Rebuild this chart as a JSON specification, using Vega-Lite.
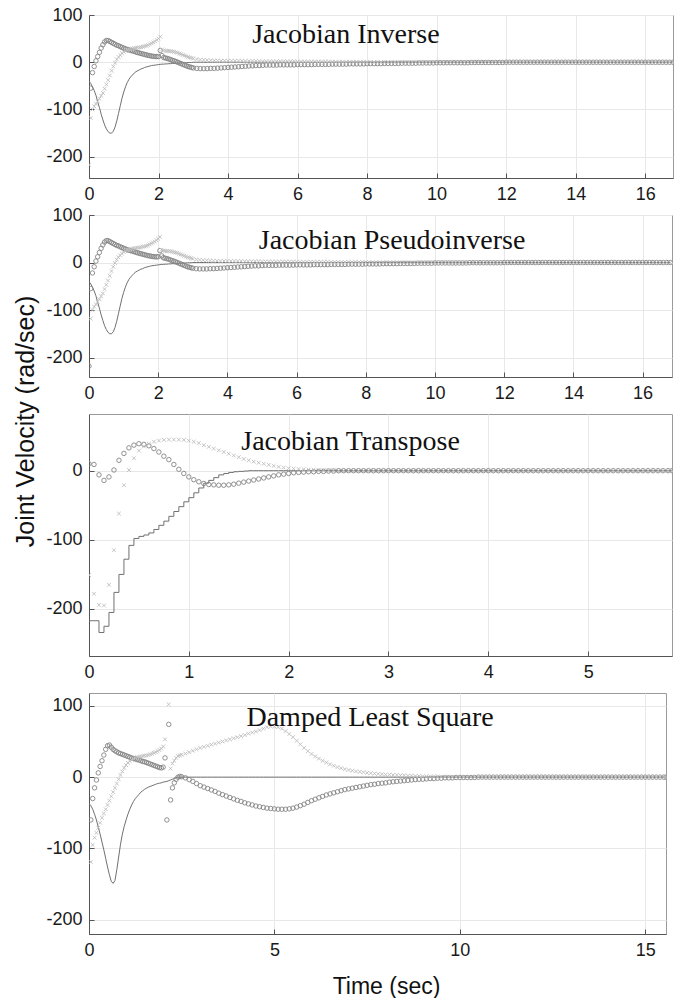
{
"$schema": "https://vega.github.io/schema/vega-lite/v6.json",
"background": "white",
"padding": {"left": 12, "top": 5, "right": 5, "bottom": 3},
"spacing": 37,
"bounds": "flush",
"config": {
  "view": {"stroke": "#9a9a9a", "strokeWidth": 1},
  "axis": {"labelFont": "Liberation Sans", "labelFontSize": 18, "labelColor": "#1a1a1a", "titleFont": "Liberation Sans", "titleFontWeight": "normal", "titleColor": "#111111", "gridColor": "#e8e8e8", "gridWidth": 1, "domainColor": "#555555", "tickColor": "#555555", "tickSize": -5, "labelPadding": 12, "labelFlush": false}
},
"datasets": {
"p12": [
{"t":0,"L":-40},
{"t":0.05,"L":-45,"O":-55,"X":-118},
{"t":0.1,"L":-52,"O":-22,"X":-100},
{"t":0.15,"L":-60,"O":-9,"X":-93},
{"t":0.2,"L":-70,"O":3,"X":-88},
{"t":0.25,"L":-84,"O":12,"X":-83},
{"t":0.3,"L":-96,"O":21,"X":-77},
{"t":0.35,"L":-110,"O":30,"X":-71},
{"t":0.4,"L":-122,"O":37,"X":-65},
{"t":0.45,"L":-133,"O":43,"X":-56},
{"t":0.5,"L":-141,"O":46,"X":-47},
{"t":0.55,"L":-147,"O":46,"X":-38},
{"t":0.6,"L":-150,"O":44,"X":-28},
{"t":0.65,"L":-150,"O":42,"X":-18},
{"t":0.7,"L":-146,"O":40,"X":-9},
{"t":0.75,"L":-137,"O":38,"X":-1},
{"t":0.8,"L":-124,"O":36,"X":6},
{"t":0.85,"L":-108,"O":35,"X":11},
{"t":0.9,"L":-92,"O":33,"X":15},
{"t":0.95,"L":-76,"O":31.5,"X":19},
{"t":1,"L":-63,"O":30,"X":22},
{"t":1.05,"L":-52,"O":28.5,"X":24},
{"t":1.1,"L":-43,"O":27,"X":26},
{"t":1.15,"L":-36,"O":26,"X":27},
{"t":1.2,"L":-31,"O":25,"X":28},
{"t":1.25,"L":-27,"O":24,"X":29},
{"t":1.3,"L":-23,"O":23,"X":30},
{"t":1.35,"L":-20,"O":21.5,"X":30},
{"t":1.4,"L":-18,"O":20.5,"X":31},
{"t":1.45,"L":-16,"O":19.5,"X":31.5},
{"t":1.5,"L":-14,"O":18.5,"X":32},
{"t":1.55,"L":-13,"O":17.5,"X":33},
{"t":1.6,"L":-11,"O":16.5,"X":34},
{"t":1.65,"L":-10,"O":15.5,"X":35},
{"t":1.7,"L":-9,"O":14.5,"X":36},
{"t":1.75,"L":-8,"O":14,"X":38},
{"t":1.8,"L":-7,"O":13,"X":40},
{"t":1.85,"L":-6.5,"O":12.5,"X":42},
{"t":1.9,"L":-6,"O":12,"X":44},
{"t":1.95,"L":-5.5,"O":12,"X":47},
{"t":2,"L":-5,"O":12,"X":50},
{"t":2.05,"L":-4.5,"O":25,"X":54},
{"t":2.1,"L":-4,"O":14,"X":27},
{"t":2.15,"L":-4,"O":10,"X":25},
{"t":2.2,"L":-3.5,"O":9,"X":24},
{"t":2.25,"L":-3.5,"O":8,"X":24},
{"t":2.3,"L":-3,"O":7,"X":24},
{"t":2.35,"L":-3,"O":5.5,"X":23.5},
{"t":2.4,"L":-2.5,"O":4,"X":23},
{"t":2.45,"L":-2.5,"O":3,"X":22},
{"t":2.5,"L":-2,"O":1.5,"X":21},
{"t":2.55,"L":-2,"O":0,"X":20},
{"t":2.6,"L":-1.5,"O":-1.5,"X":18.5},
{"t":2.65,"L":-1.5,"O":-3,"X":17},
{"t":2.7,"L":-1,"O":-4.5,"X":15.5},
{"t":2.75,"L":-1,"O":-6,"X":14},
{"t":2.8,"L":-1,"O":-7.5,"X":12.5},
{"t":2.85,"L":-0.5,"O":-9,"X":11},
{"t":2.9,"L":-0.5,"O":-10,"X":10},
{"t":2.95,"L":-0.5,"O":-11,"X":9},
{"t":3,"L":0,"O":-12,"X":8},
{"t":3.1,"L":0,"O":-13,"X":6.5},
{"t":3.2,"L":0,"O":-13.5,"X":5.5},
{"t":3.3,"L":0,"O":-13.5,"X":5},
{"t":3.4,"L":0,"O":-13.5,"X":4.5},
{"t":3.5,"L":0,"O":-13,"X":4},
{"t":3.6,"L":0,"O":-13,"X":3.5},
{"t":3.7,"L":0,"O":-12.5,"X":3.5},
{"t":3.8,"L":0,"O":-12,"X":3},
{"t":3.9,"L":0,"O":-11.5,"X":3},
{"t":4,"L":0,"O":-11,"X":3},
{"t":4.1,"L":0,"O":-10.5,"X":3},
{"t":4.2,"L":0,"O":-10,"X":3},
{"t":4.3,"L":0,"O":-9.5,"X":3},
{"t":4.4,"L":0,"O":-9,"X":3},
{"t":4.5,"L":0,"O":-8.5,"X":2.5},
{"t":4.6,"L":0,"O":-8,"X":2.5},
{"t":4.7,"L":0,"O":-7.5,"X":2.5},
{"t":4.8,"L":0,"O":-7,"X":2.5},
{"t":4.9,"L":0,"O":-7,"X":2.5},
{"t":5,"L":0,"O":-6.5,"X":2},
{"t":5.1,"L":0,"O":-6,"X":2},
{"t":5.2,"L":0,"O":-6,"X":2},
{"t":5.3,"L":0,"O":-6,"X":2},
{"t":5.4,"L":0,"O":-6,"X":2},
{"t":5.5,"L":0,"O":-5.5,"X":2},
{"t":5.6,"L":0,"O":-5.5,"X":2},
{"t":5.7,"L":0,"O":-5.5,"X":2},
{"t":5.8,"L":0,"O":-5.5,"X":2},
{"t":5.9,"L":0,"O":-5.5,"X":2},
{"t":6,"L":0,"O":-5,"X":1.5},
{"t":6.1,"L":0,"O":-5,"X":1.5},
{"t":6.2,"L":0,"O":-5,"X":1.5},
{"t":6.3,"L":0,"O":-5,"X":1.5},
{"t":6.4,"L":0,"O":-5,"X":1.5},
{"t":6.5,"L":0,"O":-4.5,"X":1.5},
{"t":6.6,"L":0,"O":-4.5,"X":1.5},
{"t":6.7,"L":0,"O":-4.5,"X":1.5},
{"t":6.8,"L":0,"O":-4.5,"X":1.5},
{"t":6.9,"L":0,"O":-4.5,"X":1.5},
{"t":7,"L":0,"O":-4,"X":1},
{"t":7.1,"L":0,"O":-4,"X":1},
{"t":7.2,"L":0,"O":-4,"X":1},
{"t":7.3,"L":0,"O":-4,"X":1},
{"t":7.4,"L":0,"O":-4,"X":1},
{"t":7.5,"L":0,"O":-3.5,"X":1},
{"t":7.6,"L":0,"O":-3.5,"X":1},
{"t":7.7,"L":0,"O":-3.5,"X":1},
{"t":7.8,"L":0,"O":-3.5,"X":1},
{"t":7.9,"L":0,"O":-3.5,"X":1},
{"t":8,"L":0,"O":-3,"X":0.5},
{"t":8.1,"L":0,"O":-3,"X":0.5},
{"t":8.2,"L":0,"O":-3,"X":0.5},
{"t":8.3,"L":0,"O":-3,"X":0.5},
{"t":8.4,"L":0,"O":-3,"X":0.5},
{"t":8.5,"L":0,"O":-2.5,"X":0.5},
{"t":8.6,"L":0,"O":-2.5,"X":0.5},
{"t":8.7,"L":0,"O":-2.5,"X":0.5},
{"t":8.8,"L":0,"O":-2.5,"X":0.5},
{"t":8.9,"L":0,"O":-2.5,"X":0.5},
{"t":9,"L":0,"O":-2,"X":0},
{"t":9.1,"L":0,"O":-2,"X":0},
{"t":9.2,"L":0,"O":-2,"X":0},
{"t":9.3,"L":0,"O":-2,"X":0},
{"t":9.4,"L":0,"O":-2,"X":0},
{"t":9.5,"L":0,"O":-1.5,"X":0},
{"t":9.6,"L":0,"O":-1.5,"X":0},
{"t":9.7,"L":0,"O":-1.5,"X":0},
{"t":9.8,"L":0,"O":-1.5,"X":0},
{"t":9.9,"L":0,"O":-1.5,"X":0},
{"t":10,"L":0,"O":-1,"X":0},
{"t":10.1,"L":0,"O":-1,"X":0},
{"t":10.2,"L":0,"O":-1,"X":0},
{"t":10.3,"L":0,"O":-1,"X":0},
{"t":10.4,"L":0,"O":-1,"X":0},
{"t":10.5,"L":0,"O":-1,"X":0},
{"t":10.6,"L":0,"O":-1,"X":0},
{"t":10.7,"L":0,"O":-1,"X":0},
{"t":10.8,"L":0,"O":-1,"X":0},
{"t":10.9,"L":0,"O":-1,"X":0},
{"t":11,"L":0,"O":-0.5,"X":0},
{"t":11.1,"L":0,"O":-0.5,"X":0},
{"t":11.2,"L":0,"O":-0.5,"X":0},
{"t":11.3,"L":0,"O":-0.5,"X":0},
{"t":11.4,"L":0,"O":-0.5,"X":0},
{"t":11.5,"L":0,"O":-0.5,"X":0},
{"t":11.6,"L":0,"O":-0.5,"X":0},
{"t":11.7,"L":0,"O":-0.5,"X":0},
{"t":11.8,"L":0,"O":-0.5,"X":0},
{"t":11.9,"L":0,"O":-0.5,"X":0},
{"t":12,"L":0,"O":0,"X":0},
{"t":12.1,"L":0,"O":0,"X":0},
{"t":12.2,"L":0,"O":0,"X":0},
{"t":12.3,"L":0,"O":0,"X":0},
{"t":12.4,"L":0,"O":0,"X":0},
{"t":12.5,"L":0,"O":0,"X":0},
{"t":12.6,"L":0,"O":0,"X":0},
{"t":12.7,"L":0,"O":0,"X":0},
{"t":12.8,"L":0,"O":0,"X":0},
{"t":12.9,"L":0,"O":0,"X":0},
{"t":13,"L":0,"O":0,"X":0},
{"t":13.1,"L":0,"O":0,"X":0},
{"t":13.2,"L":0,"O":0,"X":0},
{"t":13.3,"L":0,"O":0,"X":0},
{"t":13.4,"L":0,"O":0,"X":0},
{"t":13.5,"L":0,"O":0,"X":0},
{"t":13.6,"L":0,"O":0,"X":0},
{"t":13.7,"L":0,"O":0,"X":0},
{"t":13.8,"L":0,"O":0,"X":0},
{"t":13.9,"L":0,"O":0,"X":0},
{"t":14,"L":0,"O":0,"X":0},
{"t":14.1,"L":0,"O":0,"X":0},
{"t":14.2,"L":0,"O":0,"X":0},
{"t":14.3,"L":0,"O":0,"X":0},
{"t":14.4,"L":0,"O":0,"X":0},
{"t":14.5,"L":0,"O":0,"X":0},
{"t":14.6,"L":0,"O":0,"X":0},
{"t":14.7,"L":0,"O":0,"X":0},
{"t":14.8,"L":0,"O":0,"X":0},
{"t":14.9,"L":0,"O":0,"X":0},
{"t":15,"L":0,"O":0,"X":0},
{"t":15.1,"L":0,"O":0,"X":0},
{"t":15.2,"L":0,"O":0,"X":0},
{"t":15.3,"L":0,"O":0,"X":0},
{"t":15.4,"L":0,"O":0,"X":0},
{"t":15.5,"L":0,"O":0,"X":0},
{"t":15.6,"L":0,"O":0,"X":0},
{"t":15.7,"L":0,"O":0,"X":0},
{"t":15.8,"L":0,"O":0,"X":0},
{"t":15.9,"L":0,"O":0,"X":0},
{"t":16,"L":0,"O":0,"X":0},
{"t":16.1,"L":0,"O":0,"X":0},
{"t":16.2,"L":0,"O":0,"X":0},
{"t":16.3,"L":0,"O":0,"X":0},
{"t":16.4,"L":0,"O":0,"X":0},
{"t":16.5,"L":0,"O":0,"X":0},
{"t":16.6,"L":0,"O":0,"X":0},
{"t":16.7,"L":0,"O":0,"X":0},
{"t":16.8,"L":0,"O":0,"X":0}
],
"p1x": [{"t":0,"X":-217}],
"p2o": [{"t":0,"O":-218}],
"p3": [
{"t":0,"L":-217,"O":10,"X":-151},
{"t":0.05,"L":-217,"O":9,"X":-178},
{"t":0.1,"L":-234,"O":-6,"X":-194},
{"t":0.15,"L":-225,"O":-14,"X":-195},
{"t":0.2,"L":-205,"O":-9,"X":-165},
{"t":0.25,"L":-176,"O":1,"X":-115},
{"t":0.3,"L":-150,"O":15,"X":-62},
{"t":0.35,"L":-128,"O":25,"X":-21},
{"t":0.4,"L":-108,"O":33,"X":1},
{"t":0.45,"L":-98,"O":37,"X":18},
{"t":0.5,"L":-95,"O":39,"X":29},
{"t":0.55,"L":-93,"O":38,"X":35},
{"t":0.6,"L":-90,"O":36,"X":39},
{"t":0.65,"L":-85,"O":32,"X":42},
{"t":0.7,"L":-79,"O":27,"X":43.5},
{"t":0.75,"L":-73,"O":21,"X":44.5},
{"t":0.8,"L":-66,"O":16,"X":45},
{"t":0.85,"L":-59,"O":9,"X":45},
{"t":0.9,"L":-52,"O":2,"X":45},
{"t":0.95,"L":-45,"O":-4,"X":44.5},
{"t":1,"L":-39,"O":-9,"X":43.5},
{"t":1.05,"L":-32,"O":-13,"X":42},
{"t":1.1,"L":-25,"O":-16,"X":40},
{"t":1.15,"L":-18,"O":-18.5,"X":37},
{"t":1.2,"L":-14,"O":-20,"X":34.5},
{"t":1.25,"L":-10,"O":-20.5,"X":32},
{"t":1.3,"L":-6,"O":-21,"X":29.5},
{"t":1.35,"L":-4,"O":-21,"X":27},
{"t":1.4,"L":-2.5,"O":-20.5,"X":24.5},
{"t":1.45,"L":-1.5,"O":-19.5,"X":22},
{"t":1.5,"L":-1,"O":-18,"X":19.5},
{"t":1.55,"L":-0.5,"O":-16.5,"X":17},
{"t":1.6,"L":0,"O":-15,"X":15},
{"t":1.65,"L":0,"O":-13.5,"X":13},
{"t":1.7,"L":0,"O":-12,"X":11.5},
{"t":1.75,"L":0,"O":-10.5,"X":10},
{"t":1.8,"L":0,"O":-9,"X":8.5},
{"t":1.85,"L":0,"O":-7.5,"X":7},
{"t":1.9,"L":0,"O":-6,"X":5.5},
{"t":1.95,"L":0,"O":-5,"X":4.5},
{"t":2,"L":0,"O":-4,"X":3.5},
{"t":2.05,"L":0,"O":-3,"X":3},
{"t":2.1,"L":0,"O":-2.5,"X":2.5},
{"t":2.15,"L":0,"O":-2,"X":2},
{"t":2.2,"L":0,"O":-1.5,"X":1.5},
{"t":2.25,"L":0,"O":-1.5,"X":1.5},
{"t":2.3,"L":0,"O":-1,"X":1},
{"t":2.35,"L":0,"O":-1,"X":1},
{"t":2.4,"L":0,"O":-0.5,"X":0.5},
{"t":2.45,"L":0,"O":-0.5,"X":0.5},
{"t":2.5,"L":0,"O":0,"X":0},
{"t":2.55,"L":0,"O":0,"X":0},
{"t":2.6,"L":0,"O":0,"X":0},
{"t":2.65,"L":0,"O":0,"X":0},
{"t":2.7,"L":0,"O":0,"X":0},
{"t":2.75,"L":0,"O":0,"X":0},
{"t":2.8,"L":0,"O":0,"X":0},
{"t":2.85,"L":0,"O":0,"X":0},
{"t":2.9,"L":0,"O":0,"X":0},
{"t":2.95,"L":0,"O":0,"X":0},
{"t":3,"L":0,"O":0,"X":0},
{"t":3.05,"L":0,"O":0,"X":0},
{"t":3.1,"L":0,"O":0,"X":0},
{"t":3.15,"L":0,"O":0,"X":0},
{"t":3.2,"L":0,"O":0,"X":0},
{"t":3.25,"L":0,"O":0,"X":0},
{"t":3.3,"L":0,"O":0,"X":0},
{"t":3.35,"L":0,"O":0,"X":0},
{"t":3.4,"L":0,"O":0,"X":0},
{"t":3.45,"L":0,"O":0,"X":0},
{"t":3.5,"L":0,"O":0,"X":0},
{"t":3.55,"L":0,"O":0,"X":0},
{"t":3.6,"L":0,"O":0,"X":0},
{"t":3.65,"L":0,"O":0,"X":0},
{"t":3.7,"L":0,"O":0,"X":0},
{"t":3.75,"L":0,"O":0,"X":0},
{"t":3.8,"L":0,"O":0,"X":0},
{"t":3.85,"L":0,"O":0,"X":0},
{"t":3.9,"L":0,"O":0,"X":0},
{"t":3.95,"L":0,"O":0,"X":0},
{"t":4,"L":0,"O":0,"X":0},
{"t":4.05,"L":0,"O":0,"X":0},
{"t":4.1,"L":0,"O":0,"X":0},
{"t":4.15,"L":0,"O":0,"X":0},
{"t":4.2,"L":0,"O":0,"X":0},
{"t":4.25,"L":0,"O":0,"X":0},
{"t":4.3,"L":0,"O":0,"X":0},
{"t":4.35,"L":0,"O":0,"X":0},
{"t":4.4,"L":0,"O":0,"X":0},
{"t":4.45,"L":0,"O":0,"X":0},
{"t":4.5,"L":0,"O":0,"X":0},
{"t":4.55,"L":0,"O":0,"X":0},
{"t":4.6,"L":0,"O":0,"X":0},
{"t":4.65,"L":0,"O":0,"X":0},
{"t":4.7,"L":0,"O":0,"X":0},
{"t":4.75,"L":0,"O":0,"X":0},
{"t":4.8,"L":0,"O":0,"X":0},
{"t":4.85,"L":0,"O":0,"X":0},
{"t":4.9,"L":0,"O":0,"X":0},
{"t":4.95,"L":0,"O":0,"X":0},
{"t":5,"L":0,"O":0,"X":0},
{"t":5.05,"L":0,"O":0,"X":0},
{"t":5.1,"L":0,"O":0,"X":0},
{"t":5.15,"L":0,"O":0,"X":0},
{"t":5.2,"L":0,"O":0,"X":0},
{"t":5.25,"L":0,"O":0,"X":0},
{"t":5.3,"L":0,"O":0,"X":0},
{"t":5.35,"L":0,"O":0,"X":0},
{"t":5.4,"L":0,"O":0,"X":0},
{"t":5.45,"L":0,"O":0,"X":0},
{"t":5.5,"L":0,"O":0,"X":0},
{"t":5.55,"L":0,"O":0,"X":0},
{"t":5.6,"L":0,"O":0,"X":0},
{"t":5.65,"L":0,"O":0,"X":0},
{"t":5.7,"L":0,"O":0,"X":0},
{"t":5.75,"L":0,"O":0,"X":0},
{"t":5.8,"L":0,"O":0,"X":0},
{"t":5.84,"L":0,"O":0,"X":0}
],
"p4": [
{"t":0,"L":-37},
{"t":0.05,"L":-40,"O":-60,"X":-119},
{"t":0.1,"L":-45,"O":-30,"X":-95},
{"t":0.15,"L":-52,"O":-15,"X":-85},
{"t":0.2,"L":-60,"O":-4,"X":-78},
{"t":0.25,"L":-70,"O":6,"X":-71},
{"t":0.3,"L":-80,"O":15,"X":-64},
{"t":0.35,"L":-91,"O":23,"X":-57},
{"t":0.4,"L":-102,"O":31,"X":-51},
{"t":0.45,"L":-114,"O":39,"X":-45},
{"t":0.5,"L":-126,"O":44,"X":-39},
{"t":0.55,"L":-137,"O":45,"X":-33},
{"t":0.6,"L":-146,"O":42,"X":-27},
{"t":0.65,"L":-149,"O":39,"X":-21},
{"t":0.7,"L":-145,"O":37,"X":-15},
{"t":0.75,"L":-130,"O":35.5,"X":-9},
{"t":0.8,"L":-112,"O":34,"X":-3},
{"t":0.85,"L":-94,"O":33,"X":3},
{"t":0.9,"L":-80,"O":32,"X":8},
{"t":0.95,"L":-69,"O":31,"X":13},
{"t":1,"L":-60,"O":30,"X":17},
{"t":1.05,"L":-52,"O":29,"X":20},
{"t":1.1,"L":-45,"O":28,"X":22.5},
{"t":1.15,"L":-39,"O":27,"X":24.5},
{"t":1.2,"L":-34,"O":26,"X":26},
{"t":1.25,"L":-30,"O":25.5,"X":27},
{"t":1.3,"L":-27,"O":24.5,"X":28},
{"t":1.35,"L":-24,"O":24,"X":28.5},
{"t":1.4,"L":-21,"O":23,"X":29},
{"t":1.45,"L":-19,"O":22,"X":29.5},
{"t":1.5,"L":-17,"O":21.5,"X":30},
{"t":1.55,"L":-15.5,"O":20.5,"X":30.5},
{"t":1.6,"L":-14,"O":19.5,"X":31},
{"t":1.65,"L":-13,"O":18.5,"X":32},
{"t":1.7,"L":-12,"O":17.5,"X":33},
{"t":1.75,"L":-11,"O":16.5,"X":34},
{"t":1.8,"L":-10,"O":15.5,"X":35},
{"t":1.85,"L":-9,"O":14.5,"X":36.5},
{"t":1.9,"L":-8.5,"O":13.5,"X":38},
{"t":1.95,"L":-8,"O":13,"X":40},
{"t":2,"L":-7,"O":14,"X":43},
{"t":2.05,"L":-6.5,"O":27,"X":53},
{"t":2.1,"L":-6,"O":-60},
{"t":2.15,"L":-5,"O":74,"X":102},
{"t":2.2,"L":-4,"O":-32,"X":12},
{"t":2.25,"L":-3,"O":-15,"X":19},
{"t":2.3,"L":-2,"O":-8,"X":23},
{"t":2.35,"L":-1,"O":-3,"X":27},
{"t":2.4,"L":0,"O":0,"X":29.5},
{"t":2.45,"L":0,"O":1,"X":30.5},
{"t":2.5,"L":0,"O":0.5,"X":31.5},
{"t":2.6,"L":0,"O":-1,"X":33},
{"t":2.7,"L":0,"O":-3.5,"X":35},
{"t":2.8,"L":0,"O":-6,"X":37},
{"t":2.9,"L":0,"O":-9,"X":39},
{"t":3,"L":0,"O":-12,"X":41},
{"t":3.1,"L":0,"O":-14,"X":42.5},
{"t":3.2,"L":0,"O":-16,"X":44},
{"t":3.3,"L":0,"O":-18,"X":45.5},
{"t":3.4,"L":0,"O":-20,"X":47},
{"t":3.5,"L":0,"O":-22.5,"X":48.5},
{"t":3.6,"L":0,"O":-24.5,"X":50},
{"t":3.7,"L":0,"O":-26.5,"X":51.5},
{"t":3.8,"L":0,"O":-28.5,"X":53},
{"t":3.9,"L":0,"O":-30.5,"X":54.5},
{"t":4,"L":0,"O":-32.5,"X":56},
{"t":4.1,"L":0,"O":-34,"X":57.5},
{"t":4.2,"L":0,"O":-36,"X":59},
{"t":4.3,"L":0,"O":-37.5,"X":61},
{"t":4.4,"L":0,"O":-39,"X":62.5},
{"t":4.5,"L":0,"O":-40.5,"X":64},
{"t":4.6,"L":0,"O":-41.5,"X":66},
{"t":4.7,"L":0,"O":-42.5,"X":68},
{"t":4.8,"L":0,"O":-43.5,"X":70},
{"t":4.9,"L":0,"O":-44,"X":71},
{"t":5,"L":0,"O":-44.5,"X":71},
{"t":5.1,"L":0,"O":-45,"X":70},
{"t":5.2,"L":0,"O":-45,"X":68},
{"t":5.3,"L":0,"O":-45,"X":64.5},
{"t":5.4,"L":0,"O":-44.5,"X":60.5},
{"t":5.5,"L":0,"O":-43.5,"X":56},
{"t":5.6,"L":0,"O":-42,"X":51},
{"t":5.7,"L":0,"O":-40,"X":46},
{"t":5.8,"L":0,"O":-38,"X":41},
{"t":5.9,"L":0,"O":-35.5,"X":36.5},
{"t":6,"L":0,"O":-33,"X":32.5},
{"t":6.1,"L":0,"O":-31,"X":29},
{"t":6.2,"L":0,"O":-29,"X":26},
{"t":6.3,"L":0,"O":-27,"X":23},
{"t":6.4,"L":0,"O":-25,"X":20.5},
{"t":6.5,"L":0,"O":-23.5,"X":18},
{"t":6.6,"L":0,"O":-22,"X":16},
{"t":6.7,"L":0,"O":-20.5,"X":14},
{"t":6.8,"L":0,"O":-19,"X":12.5},
{"t":6.9,"L":0,"O":-17.5,"X":11},
{"t":7,"L":0,"O":-16.5,"X":10},
{"t":7.1,"L":0,"O":-15.5,"X":9},
{"t":7.2,"L":0,"O":-14.5,"X":8},
{"t":7.3,"L":0,"O":-13.5,"X":7.5},
{"t":7.4,"L":0,"O":-12.5,"X":7},
{"t":7.5,"L":0,"O":-11.5,"X":6},
{"t":7.6,"L":0,"O":-10.5,"X":5.5},
{"t":7.7,"L":0,"O":-10,"X":5},
{"t":7.8,"L":0,"O":-9,"X":4.5},
{"t":7.9,"L":0,"O":-8.5,"X":4},
{"t":8,"L":0,"O":-8,"X":3.5},
{"t":8.1,"L":0,"O":-7,"X":3.5},
{"t":8.2,"L":0,"O":-6.5,"X":3},
{"t":8.3,"L":0,"O":-6,"X":3},
{"t":8.4,"L":0,"O":-5.5,"X":2.5},
{"t":8.5,"L":0,"O":-5,"X":2.5},
{"t":8.6,"L":0,"O":-4.5,"X":2},
{"t":8.7,"L":0,"O":-4,"X":2},
{"t":8.8,"L":0,"O":-3.5,"X":1.5},
{"t":8.9,"L":0,"O":-3,"X":1.5},
{"t":9,"L":0,"O":-3,"X":1},
{"t":9.1,"L":0,"O":-2.5,"X":1},
{"t":9.2,"L":0,"O":-2,"X":1},
{"t":9.3,"L":0,"O":-2,"X":1},
{"t":9.4,"L":0,"O":-1.5,"X":0.5},
{"t":9.5,"L":0,"O":-1.5,"X":0.5},
{"t":9.6,"L":0,"O":-1,"X":0.5},
{"t":9.7,"L":0,"O":-1,"X":0.5},
{"t":9.8,"L":0,"O":-1,"X":0},
{"t":9.9,"L":0,"O":-0.5,"X":0},
{"t":10,"L":0,"O":-0.5,"X":0},
{"t":10.1,"L":0,"O":-0.5,"X":0},
{"t":10.2,"L":0,"O":-0.5,"X":0},
{"t":10.3,"L":0,"O":-0.5,"X":0},
{"t":10.4,"L":0,"O":-0.5,"X":0},
{"t":10.5,"L":0,"O":0,"X":0},
{"t":10.6,"L":0,"O":0,"X":0},
{"t":10.7,"L":0,"O":0,"X":0},
{"t":10.8,"L":0,"O":0,"X":0},
{"t":10.9,"L":0,"O":0,"X":0},
{"t":11,"L":0,"O":0,"X":0},
{"t":11.1,"L":0,"O":0,"X":0},
{"t":11.2,"L":0,"O":0,"X":0},
{"t":11.3,"L":0,"O":0,"X":0},
{"t":11.4,"L":0,"O":0,"X":0},
{"t":11.5,"L":0,"O":0,"X":0},
{"t":11.6,"L":0,"O":0,"X":0},
{"t":11.7,"L":0,"O":0,"X":0},
{"t":11.8,"L":0,"O":0,"X":0},
{"t":11.9,"L":0,"O":0,"X":0},
{"t":12,"L":0,"O":0,"X":0},
{"t":12.1,"L":0,"O":0,"X":0},
{"t":12.2,"L":0,"O":0,"X":0},
{"t":12.3,"L":0,"O":0,"X":0},
{"t":12.4,"L":0,"O":0,"X":0},
{"t":12.5,"L":0,"O":0,"X":0},
{"t":12.6,"L":0,"O":0,"X":0},
{"t":12.7,"L":0,"O":0,"X":0},
{"t":12.8,"L":0,"O":0,"X":0},
{"t":12.9,"L":0,"O":0,"X":0},
{"t":13,"L":0,"O":0,"X":0},
{"t":13.1,"L":0,"O":0,"X":0},
{"t":13.2,"L":0,"O":0,"X":0},
{"t":13.3,"L":0,"O":0,"X":0},
{"t":13.4,"L":0,"O":0,"X":0},
{"t":13.5,"L":0,"O":0,"X":0},
{"t":13.6,"L":0,"O":0,"X":0},
{"t":13.7,"L":0,"O":0,"X":0},
{"t":13.8,"L":0,"O":0,"X":0},
{"t":13.9,"L":0,"O":0,"X":0},
{"t":14,"L":0,"O":0,"X":0},
{"t":14.1,"L":0,"O":0,"X":0},
{"t":14.2,"L":0,"O":0,"X":0},
{"t":14.3,"L":0,"O":0,"X":0},
{"t":14.4,"L":0,"O":0,"X":0},
{"t":14.5,"L":0,"O":0,"X":0},
{"t":14.6,"L":0,"O":0,"X":0},
{"t":14.7,"L":0,"O":0,"X":0},
{"t":14.8,"L":0,"O":0,"X":0},
{"t":14.9,"L":0,"O":0,"X":0},
{"t":15,"L":0,"O":0,"X":0},
{"t":15.1,"L":0,"O":0,"X":0},
{"t":15.2,"L":0,"O":0,"X":0},
{"t":15.3,"L":0,"O":0,"X":0},
{"t":15.4,"L":0,"O":0,"X":0},
{"t":15.5,"L":0,"O":0,"X":0},
{"t":15.56,"L":0,"O":0,"X":0}
]
},
"vconcat": [
{
 "width": 584, "height": 163,
 "layer": [
  {"data": {"name": "p12"}, "mark": {"type": "line", "color": "#707070", "strokeWidth": 1, "clip": true},
   "encoding": {
    "x": {"field": "t", "type": "quantitative", "title": null, "scale": {"domain": [0, 16.8], "nice": false, "zero": false}, "axis": {"values": [0,2,4,6,8,10,12,14,16], "labelExpr": "'' + datum.value", "title": null}},
    "y": {"field": "L", "type": "quantitative", "title": null, "scale": {"domain": [-245, 100], "nice": false, "zero": false}, "axis": {"values": [-200,-100,0,100], "labelExpr": "'' + datum.value", "title": null}}}},
  {"data": {"name": "p12"}, "mark": {"type": "point", "shape": "circle", "filled": false, "size": 20, "color": "#858585", "strokeWidth": 0.9, "opacity": 1, "clip": true},
   "encoding": {
    "x": {"field": "t", "type": "quantitative", "title": null, "scale": {"domain": [0, 16.8], "nice": false, "zero": false}, "axis": {"values": [0,2,4,6,8,10,12,14,16], "labelExpr": "'' + datum.value", "title": null}},
    "y": {"field": "O", "type": "quantitative", "title": null, "scale": {"domain": [-245, 100], "nice": false, "zero": false}, "axis": {"values": [-200,-100,0,100], "labelExpr": "'' + datum.value", "title": null}}}},
  {"data": {"name": "p12"}, "mark": {"type": "point", "shape": "M-1,-1L1,1M-1,1L1,-1", "filled": false, "size": 14, "color": "#bdbdbd", "strokeWidth": 0.9, "opacity": 1, "clip": true},
   "encoding": {
    "x": {"field": "t", "type": "quantitative", "title": null, "scale": {"domain": [0, 16.8], "nice": false, "zero": false}, "axis": {"values": [0,2,4,6,8,10,12,14,16], "labelExpr": "'' + datum.value", "title": null}},
    "y": {"field": "X", "type": "quantitative", "title": null, "scale": {"domain": [-245, 100], "nice": false, "zero": false}, "axis": {"values": [-200,-100,0,100], "labelExpr": "'' + datum.value", "title": null}}}},
  {"data": {"name": "p1x"}, "mark": {"type": "point", "shape": "M-1,-1L1,1M-1,1L1,-1", "filled": false, "size": 14, "color": "#bdbdbd", "strokeWidth": 0.9, "opacity": 1, "clip": true},
   "encoding": {
    "x": {"field": "t", "type": "quantitative", "title": null, "scale": {"domain": [0, 16.8], "nice": false, "zero": false}, "axis": {"values": [0,2,4,6,8,10,12,14,16], "labelExpr": "'' + datum.value", "title": null}},
    "y": {"field": "X", "type": "quantitative", "title": null, "scale": {"domain": [-245, 100], "nice": false, "zero": false}, "axis": {"values": [-200,-100,0,100], "labelExpr": "'' + datum.value", "title": null}}}},
  {"data": {"values": [{"label": "Jacobian Inverse"}]}, "mark": {"type": "text", "font": "Liberation Serif", "fontSize": 28, "align": "center", "baseline": "alphabetic", "color": "#111111"},
   "encoding": {
    "x": {"datum": 7.39, "type": "quantitative", "title": null, "scale": {"domain": [0, 16.8], "nice": false, "zero": false}, "axis": {"values": [0,2,4,6,8,10,12,14,16], "labelExpr": "'' + datum.value", "title": null}},
    "y": {"datum": 41, "type": "quantitative", "title": null, "scale": {"domain": [-245, 100], "nice": false, "zero": false}, "axis": {"values": [-200,-100,0,100], "labelExpr": "'' + datum.value", "title": null}},
    "text": {"field": "label", "type": "nominal"}}}
 ]
},
{
 "width": 583, "height": 162,
 "layer": [
  {"data": {"name": "p12"}, "mark": {"type": "line", "color": "#707070", "strokeWidth": 1, "clip": true},
   "encoding": {
    "x": {"field": "t", "type": "quantitative", "title": null, "scale": {"domain": [0, 16.85], "nice": false, "zero": false}, "axis": {"values": [0,2,4,6,8,10,12,14,16], "labelExpr": "'' + datum.value", "title": null}},
    "y": {"field": "L", "type": "quantitative", "title": null, "scale": {"domain": [-241, 100], "nice": false, "zero": false}, "axis": {"values": [-200,-100,0,100], "labelExpr": "'' + datum.value", "title": null}}}},
  {"data": {"name": "p12"}, "mark": {"type": "point", "shape": "circle", "filled": false, "size": 20, "color": "#858585", "strokeWidth": 0.9, "opacity": 1, "clip": true},
   "encoding": {
    "x": {"field": "t", "type": "quantitative", "title": null, "scale": {"domain": [0, 16.85], "nice": false, "zero": false}, "axis": {"values": [0,2,4,6,8,10,12,14,16], "labelExpr": "'' + datum.value", "title": null}},
    "y": {"field": "O", "type": "quantitative", "title": null, "scale": {"domain": [-241, 100], "nice": false, "zero": false}, "axis": {"values": [-200,-100,0,100], "labelExpr": "'' + datum.value", "title": null}}}},
  {"data": {"name": "p2o"}, "mark": {"type": "point", "shape": "circle", "filled": false, "size": 20, "color": "#858585", "strokeWidth": 0.9, "opacity": 1, "clip": true},
   "encoding": {
    "x": {"field": "t", "type": "quantitative", "title": null, "scale": {"domain": [0, 16.85], "nice": false, "zero": false}, "axis": {"values": [0,2,4,6,8,10,12,14,16], "labelExpr": "'' + datum.value", "title": null}},
    "y": {"field": "O", "type": "quantitative", "title": null, "scale": {"domain": [-241, 100], "nice": false, "zero": false}, "axis": {"values": [-200,-100,0,100], "labelExpr": "'' + datum.value", "title": null}}}},
  {"data": {"name": "p12"}, "mark": {"type": "point", "shape": "M-1,-1L1,1M-1,1L1,-1", "filled": false, "size": 14, "color": "#bdbdbd", "strokeWidth": 0.9, "opacity": 1, "clip": true},
   "encoding": {
    "x": {"field": "t", "type": "quantitative", "title": null, "scale": {"domain": [0, 16.85], "nice": false, "zero": false}, "axis": {"values": [0,2,4,6,8,10,12,14,16], "labelExpr": "'' + datum.value", "title": null}},
    "y": {"field": "X", "type": "quantitative", "title": null, "scale": {"domain": [-241, 100], "nice": false, "zero": false}, "axis": {"values": [-200,-100,0,100], "labelExpr": "'' + datum.value", "title": null}}}},
  {"data": {"values": [{"label": "Jacobian Pseudoinverse"}]}, "mark": {"type": "text", "font": "Liberation Serif", "fontSize": 28, "align": "center", "baseline": "alphabetic", "color": "#111111"},
   "encoding": {
    "x": {"datum": 8.76, "type": "quantitative", "title": null, "scale": {"domain": [0, 16.85], "nice": false, "zero": false}, "axis": {"values": [0,2,4,6,8,10,12,14,16], "labelExpr": "'' + datum.value", "title": null}},
    "y": {"datum": 28, "type": "quantitative", "title": null, "scale": {"domain": [-241, 100], "nice": false, "zero": false}, "axis": {"values": [-200,-100,0,100], "labelExpr": "'' + datum.value", "title": null}},
    "text": {"field": "label", "type": "nominal"}}}
 ]
},
{
 "width": 583, "height": 242,
 "layer": [
  {"data": {"name": "p3"}, "mark": {"type": "line", "color": "#707070", "strokeWidth": 1, "interpolate": "step-after", "clip": true},
   "encoding": {
    "x": {"field": "t", "type": "quantitative", "title": null, "scale": {"domain": [0, 5.84], "nice": false, "zero": false}, "axis": {"values": [0,1,2,3,4,5], "labelExpr": "'' + datum.value", "title": null}},
    "y": {"field": "L", "type": "quantitative", "title": "Joint Velocity (rad/sec)", "scale": {"domain": [-268, 82], "nice": false, "zero": false}, "axis": {"values": [-200,-100,0], "labelExpr": "'' + datum.value", "title": "Joint Velocity (rad/sec)", "titleX": -56, "titleY": 7, "titleAngle": 270, "titleAlign": "center", "titleBaseline": "alphabetic", "titleFontSize": 25}}}},
  {"data": {"name": "p3"}, "mark": {"type": "point", "shape": "circle", "filled": false, "size": 20, "color": "#858585", "strokeWidth": 0.9, "opacity": 1, "clip": true},
   "encoding": {
    "x": {"field": "t", "type": "quantitative", "title": null, "scale": {"domain": [0, 5.84], "nice": false, "zero": false}, "axis": {"values": [0,1,2,3,4,5], "labelExpr": "'' + datum.value", "title": null}},
    "y": {"field": "O", "type": "quantitative", "title": "Joint Velocity (rad/sec)", "scale": {"domain": [-268, 82], "nice": false, "zero": false}, "axis": {"values": [-200,-100,0], "labelExpr": "'' + datum.value", "title": "Joint Velocity (rad/sec)", "titleX": -56, "titleY": 7, "titleAngle": 270, "titleAlign": "center", "titleBaseline": "alphabetic", "titleFontSize": 25}}}},
  {"data": {"name": "p3"}, "mark": {"type": "point", "shape": "M-1,-1L1,1M-1,1L1,-1", "filled": false, "size": 14, "color": "#bdbdbd", "strokeWidth": 0.9, "opacity": 1, "clip": true},
   "encoding": {
    "x": {"field": "t", "type": "quantitative", "title": null, "scale": {"domain": [0, 5.84], "nice": false, "zero": false}, "axis": {"values": [0,1,2,3,4,5], "labelExpr": "'' + datum.value", "title": null}},
    "y": {"field": "X", "type": "quantitative", "title": "Joint Velocity (rad/sec)", "scale": {"domain": [-268, 82], "nice": false, "zero": false}, "axis": {"values": [-200,-100,0], "labelExpr": "'' + datum.value", "title": "Joint Velocity (rad/sec)", "titleX": -56, "titleY": 7, "titleAngle": 270, "titleAlign": "center", "titleBaseline": "alphabetic", "titleFontSize": 25}}}},
  {"data": {"values": [{"label": "Jacobian Transpose"}]}, "mark": {"type": "text", "font": "Liberation Serif", "fontSize": 28, "align": "center", "baseline": "alphabetic", "color": "#111111"},
   "encoding": {
    "x": {"datum": 2.62, "type": "quantitative", "title": null, "scale": {"domain": [0, 5.84], "nice": false, "zero": false}, "axis": {"values": [0,1,2,3,4,5], "labelExpr": "'' + datum.value", "title": null}},
    "y": {"datum": 30, "type": "quantitative", "title": "Joint Velocity (rad/sec)", "scale": {"domain": [-268, 82], "nice": false, "zero": false}, "axis": {"values": [-200,-100,0], "labelExpr": "'' + datum.value", "title": "Joint Velocity (rad/sec)", "titleX": -56, "titleY": 7, "titleAngle": 270, "titleAlign": "center", "titleBaseline": "alphabetic", "titleFontSize": 25}},
    "text": {"field": "label", "type": "nominal"}}}
 ]
},
{
 "width": 577, "height": 241,
 "layer": [
  {"data": {"name": "p4"}, "mark": {"type": "line", "color": "#707070", "strokeWidth": 1, "clip": true},
   "encoding": {
    "x": {"field": "t", "type": "quantitative", "title": "Time (sec)", "scale": {"domain": [0, 15.56], "nice": false, "zero": false}, "axis": {"values": [0,5,10,15], "labelExpr": "'' + datum.value", "title": "Time (sec)", "titleX": 297, "titleY": 59, "titleAlign": "center", "titleBaseline": "alphabetic", "titleFontSize": 23}},
    "y": {"field": "L", "type": "quantitative", "title": null, "scale": {"domain": [-220, 118], "nice": false, "zero": false}, "axis": {"values": [-200,-100,0,100], "labelExpr": "'' + datum.value", "title": null}}}},
  {"data": {"name": "p4"}, "mark": {"type": "point", "shape": "circle", "filled": false, "size": 20, "color": "#858585", "strokeWidth": 0.9, "opacity": 1, "clip": true},
   "encoding": {
    "x": {"field": "t", "type": "quantitative", "title": "Time (sec)", "scale": {"domain": [0, 15.56], "nice": false, "zero": false}, "axis": {"values": [0,5,10,15], "labelExpr": "'' + datum.value", "title": "Time (sec)", "titleX": 297, "titleY": 59, "titleAlign": "center", "titleBaseline": "alphabetic", "titleFontSize": 23}},
    "y": {"field": "O", "type": "quantitative", "title": null, "scale": {"domain": [-220, 118], "nice": false, "zero": false}, "axis": {"values": [-200,-100,0,100], "labelExpr": "'' + datum.value", "title": null}}}},
  {"data": {"name": "p4"}, "mark": {"type": "point", "shape": "M-1,-1L1,1M-1,1L1,-1", "filled": false, "size": 14, "color": "#bdbdbd", "strokeWidth": 0.9, "opacity": 1, "clip": true},
   "encoding": {
    "x": {"field": "t", "type": "quantitative", "title": "Time (sec)", "scale": {"domain": [0, 15.56], "nice": false, "zero": false}, "axis": {"values": [0,5,10,15], "labelExpr": "'' + datum.value", "title": "Time (sec)", "titleX": 297, "titleY": 59, "titleAlign": "center", "titleBaseline": "alphabetic", "titleFontSize": 23}},
    "y": {"field": "X", "type": "quantitative", "title": null, "scale": {"domain": [-220, 118], "nice": false, "zero": false}, "axis": {"values": [-200,-100,0,100], "labelExpr": "'' + datum.value", "title": null}}}},
  {"data": {"values": [{"label": "Damped Least Square"}]}, "mark": {"type": "text", "font": "Liberation Serif", "fontSize": 28, "align": "center", "baseline": "alphabetic", "color": "#111111"},
   "encoding": {
    "x": {"datum": 7.58, "type": "quantitative", "title": "Time (sec)", "scale": {"domain": [0, 15.56], "nice": false, "zero": false}, "axis": {"values": [0,5,10,15], "labelExpr": "'' + datum.value", "title": "Time (sec)", "titleX": 297, "titleY": 59, "titleAlign": "center", "titleBaseline": "alphabetic", "titleFontSize": 23}},
    "y": {"datum": 71.5, "type": "quantitative", "title": null, "scale": {"domain": [-220, 118], "nice": false, "zero": false}, "axis": {"values": [-200,-100,0,100], "labelExpr": "'' + datum.value", "title": null}},
    "text": {"field": "label", "type": "nominal"}}}
 ]
}
]
}
